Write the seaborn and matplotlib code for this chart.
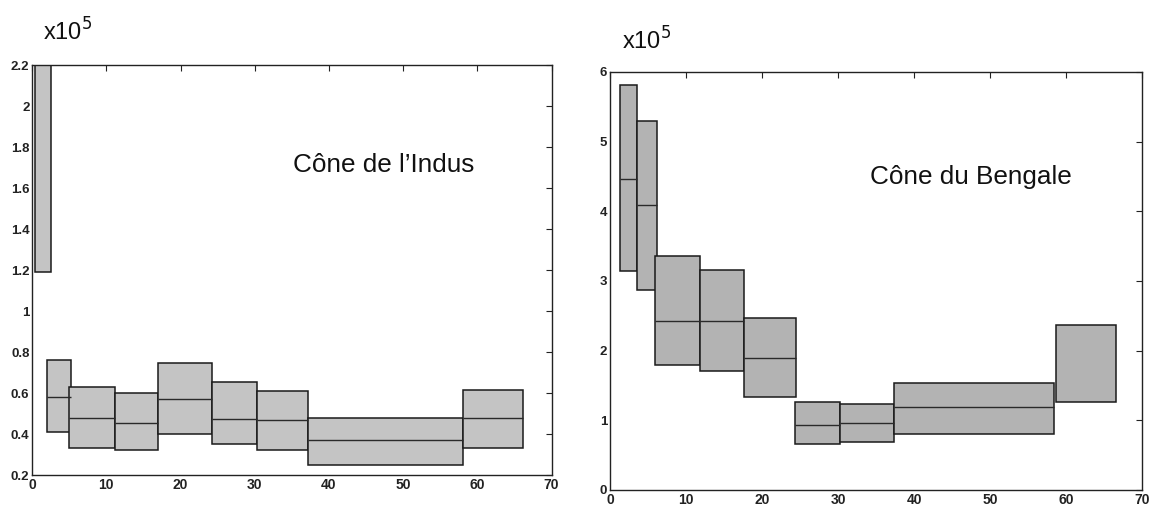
import numpy as np
import matplotlib
matplotlib.use("Agg")
import matplotlib.pyplot as plt
import seaborn as sns

# ---- data (x in interval units, y in units of 1e5) ----
indus_left = [0.4, 2.0, 5.0, 11.1, 16.9, 24.2, 30.3, 37.2, 58.1]
indus_right = [2.5, 5.3, 11.1, 16.9, 24.2, 30.3, 37.2, 58.1, 66.2]
indus_q1 = [1.19, 0.41, 0.33, 0.32, 0.40, 0.35, 0.32, 0.25, 0.33]
indus_q3 = [2.25, 0.76, 0.63, 0.60, 0.745, 0.655, 0.61, 0.48, 0.615]
indus_med = [np.nan, 0.58, 0.48, 0.455, 0.57, 0.475, 0.47, 0.37, 0.48]

beng_left = [1.3, 3.6, 5.9, 11.8, 17.6, 24.3, 30.3, 37.4, 58.7]
beng_right = [3.6, 6.2, 11.8, 17.6, 24.5, 30.3, 37.4, 58.4, 66.6]
beng_q1 = [3.14, 2.87, 1.80, 1.71, 1.34, 0.66, 0.69, 0.80, 1.26]
beng_q3 = [5.81, 5.30, 3.36, 3.16, 2.47, 1.26, 1.24, 1.53, 2.37]
beng_med = [4.47, 4.09, 2.43, 2.42, 1.90, 0.93, 0.96, 1.19, np.nan]

indus_yticks = [0.2, 0.4, 0.6, 0.8, 1.0, 1.2, 1.4, 1.6, 1.8, 2.0, 2.2]
indus_yticklabels = ["0.2", "0.4", "0.6", "0.8", "1", "1.2", "1.4", "1.6", "1.8", "2", "2.2"]
beng_yticks = [0, 1, 2, 3, 4, 5, 6]
xticks = [0, 10, 20, 30, 40, 50, 60, 70]

sns.set_theme(style="white")
plt.rcParams["font.family"] = ["Liberation Sans", "DejaVu Sans"]

fig = plt.figure(figsize=(11.49, 5.2), dpi=100)
ax1 = fig.add_axes([0.028, 0.0865, 0.452, 0.7885])
ax2 = fig.add_axes([0.531, 0.0577, 0.463, 0.804])


def draw(ax, left, right, q1, q3, med, color, ylim, yticks, ylabels):
    left = np.array(left)
    right = np.array(right)
    q1 = np.array(q1)
    q3 = np.array(q3)
    ax.bar(left, q3 - q1, width=right - left, bottom=q1, align="edge",
           color=color, edgecolor="#1a1a1a", linewidth=1.1, zorder=2)
    med = np.array(med)
    ok = ~np.isnan(med)
    ax.hlines(med[ok], left[ok], right[ok], color="#2a2a2a", linewidth=1.0, zorder=3)
    ax.set_xlim(0, 70)
    ax.set_ylim(*ylim)
    ax.set_xticks(xticks)
    ax.set_xticklabels([str(t) for t in xticks], fontsize=10, fontweight="bold")
    ax.set_yticks(yticks)
    ax.set_yticklabels(ylabels, fontsize=9.5, fontweight="bold")
    ax.tick_params(direction="in", length=4, width=0.8, top=True, right=True,
                   labeltop=False, labelright=False, pad=2, colors="#222222")
    for s in ax.spines.values():
        s.set_visible(True)
        s.set_color("#222222")
        s.set_linewidth(1.0)
    ax.set_facecolor("white")


draw(ax1, indus_left, indus_right, indus_q1, indus_q3, indus_med, "#c4c4c4",
     (0.2, 2.2), indus_yticks, indus_yticklabels)
draw(ax2, beng_left, beng_right, beng_q1, beng_q3, beng_med, "#b3b3b3",
     (0, 6), beng_yticks, [str(t) for t in beng_yticks])

fig.text(293 / 1149, 1 - 165 / 520, "Cône de l’Indus", fontsize=18.8,
         ha="left", va="center", color="#111111")
fig.text(870 / 1149, 1 - 177 / 520, "Cône du Bengale", fontsize=18.8,
         ha="left", va="center", color="#111111")

fig.text(43 / 1149, 1 - 41 / 520, r"x10$^{5}$", fontsize=17, ha="left",
         va="baseline", color="#111111")
fig.text(622 / 1149, 1 - 50 / 520, r"x10$^{5}$", fontsize=17, ha="left",
         va="baseline", color="#111111")

fig.savefig("out.png", dpi=100, facecolor="white")
